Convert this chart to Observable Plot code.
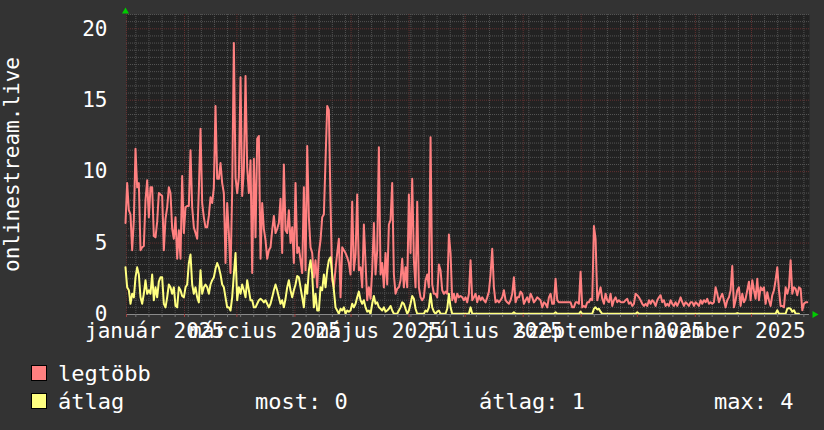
<!DOCTYPE html>
<html>
<head>
<meta charset="utf-8">
<script src="https://cdn.jsdelivr.net/npm/d3@7"></script>
<script src="https://cdn.jsdelivr.net/npm/@observablehq/plot@0.6"></script>
<style>
  html, body { margin: 0; padding: 0; background: #333333; }
  body { width: 824px; height: 430px; overflow: hidden; font-family: "DejaVu Sans Mono", monospace; color: #ffffff; }
  #chart svg { display: block; }
  #legend { position: relative; width: 824px; height: 80px; font-size: 22px; line-height: 20px; }
  #legend .sw { position: absolute; width: 14px; height: 14px; border: 1px solid #000; }
  #legend .tx { position: absolute; white-space: pre; }
</style>
</head>
<body>
<div id="chart"></div>
<div id="legend"></div>
<script>
const firstSample = "2024-12-31 11:10";
const sampleStepHours = 21.38;

const legtobb = [
  6.4, 9.2, 7.3, 7.0, 4.5, 6.6, 11.6, 8.9, 9.2, 4.5,
  4.7, 4.8, 8.0, 9.4, 6.8, 8.9, 8.9, 5.5, 5.4, 6.5,
  8.5, 8.4, 8.3, 4.5, 6.7, 7.5, 8.9, 8.5, 6.0, 5.3,
  6.8, 3.9, 5.9, 3.9, 9.7, 5.7, 7.5, 7.6, 7.6, 11.5,
  7.5, 6.1, 5.7, 5.3, 8.7, 13.0, 7.8, 6.8, 6.1, 6.1,
  6.9, 8.2, 7.8, 8.9, 14.6, 9.5, 9.5, 10.6, 9.2, 8.5,
  3.6, 7.8, 5.7, 2.9, 8.7, 19.0, 9.6, 8.5, 9.6, 16.6,
  8.3, 10.1, 16.7, 10.3, 8.5, 10.8, 2.9, 10.9, 5.4, 12.3,
  12.5, 3.9, 7.8, 6.0, 5.2, 3.9, 4.5, 4.7, 5.9, 6.9,
  5.7, 6.0, 6.4, 8.1, 4.3, 10.5, 5.9, 5.7, 7.3, 5.0,
  6.1, 3.6, 9.2, 4.3, 4.7, 3.8, 2.9, 8.9, 3.1, 11.8,
  6.8, 4.7, 4.3, 2.6, 3.8, 1.9, 4.3, 5.2, 6.8, 7.0,
  10.8, 14.6, 14.3, 7.8, 2.4, 1.9, 3.2, 4.3, 5.3, 1.2,
  4.7, 4.5, 4.3, 4.0, 3.6,
  2.8, 7.9, 3.1, 4.2, 8.4, 3.1, 3.3, 1.9, 6.3, 3.6,
  1.0, 1.9, 1.1, 3.1, 6.4, 2.8, 4.5, 11.7, 2.8, 3.6,
  1.9, 4.3, 2.1, 6.3, 6.6, 9.2, 2.8, 1.45, 1.8, 1.9,
  2.4, 3.9, 1.9, 3.3, 1.9, 8.4, 4.3, 9.5, 3.8, 1.9,
  7.9, 1.9, 1.2, 1.0, 1.2, 2.4, 2.8, 1.9, 12.4, 2.1,
  1.45, 1.45, 1.2, 3.5, 3.1, 1.7, 1.45, 1.6, 1.45, 5.6,
  4.3, 1.0, 1.45, 0.85, 1.45, 1.2, 1.3, 1.2, 1.0, 1.2,
  0.85, 1.45, 3.8, 1.0, 1.2, 1.45, 0.85, 1.3, 1.0, 1.2,
  1.0, 0.85, 1.2, 1.6, 2.8, 4.6, 1.9, 0.85, 1.0, 0.85,
  1.0, 1.2, 1.7, 1.0, 0.85, 0.75, 1.0, 1.45, 2.6, 0.85,
  1.2, 1.2, 1.6, 1.45, 0.75, 1.0, 1.2, 0.85, 1.45, 1.2,
  0.85, 1.0, 1.2, 1.1, 1.0, 0.5, 0.85, 0.75, 0.5, 1.2,
  1.45, 0.75, 0.75, 2.5, 1.0, 0.85, 0.85, 0.85, 0.85, 0.85,
  0.85, 0.85, 0.85,
  0.5, 0.5, 0.86, 0.86, 0.75, 3.0, 0.5, 0.6, 0.5, 0.86,
  0.86, 1.1, 1.0, 6.2, 5.3, 1.0, 1.45, 1.9, 1.1, 0.75,
  1.45, 1.0, 0.86, 1.45, 0.6, 1.0, 1.2, 0.86, 1.0, 0.86,
  0.86, 0.86, 1.0, 1.1, 0.75, 0.86, 0.6, 0.75, 1.45, 1.35,
  1.2, 1.0, 0.75, 0.6, 0.75, 0.6, 1.0, 0.75, 1.0, 0.86,
  0.6, 1.0, 1.2, 1.35, 0.86, 1.0, 0.6, 0.75, 0.6, 1.0,
  0.75, 0.6, 0.86, 0.6, 0.86, 1.2, 0.86, 0.6, 0.86, 0.75,
  0.6, 0.86, 0.86, 0.6, 0.86, 0.75, 0.6, 1.0, 0.75, 1.0,
  0.86, 1.1, 0.75, 0.86, 0.75, 0.86, 1.9, 1.45, 0.86, 1.2,
  1.45, 1.0, 0.5, 1.0, 1.2, 1.7, 3.4, 0.5, 1.0, 1.7,
  1.9, 0.6, 1.45, 0.86, 1.1, 1.7, 2.3, 1.0, 2.4, 1.7,
  1.1, 2.5, 1.0, 1.9, 1.7, 1.9, 0.75, 1.55, 1.0, 0.6,
  1.35, 1.7, 2.4, 3.3, 1.7, 0.6, 0.6, 0.5, 1.9, 1.45,
  1.9, 3.8, 1.45, 1.9, 1.8, 1.35, 1.9, 1.8, 0.3, 0.75,
  0.86, 0.86
];

const atlag = [
  3.3, 1.9, 1.7, 0.75, 1.45, 1.2, 2.6, 3.3, 2.8, 1.2,
  0.75, 1.45, 2.4, 1.45, 1.7, 1.45, 2.8, 1.0, 1.9, 1.2,
  2.3, 2.6, 2.6, 0.75, 0.5, 1.2, 2.1, 1.9, 1.45, 1.9,
  0.6, 0.5, 1.9, 1.7, 1.3, 1.2, 1.9, 2.1, 3.6, 4.2,
  2.1, 1.45, 1.9, 1.2, 0.85, 3.1, 1.45, 1.9, 2.1, 1.9,
  1.45, 2.1, 2.4, 2.6, 3.2, 3.6, 3.3, 2.8, 2.1, 1.9,
  1.2, 0.5, 0.5, 0.28, 1.2, 2.8, 4.3, 1.0, 1.9, 1.45,
  2.1, 1.7, 1.2, 2.4, 1.7, 1.0, 1.0, 0.5, 0.5, 0.75,
  1.0, 1.1, 1.0, 0.85, 1.0, 0.75, 0.5, 0.75, 1.2, 1.7,
  2.1, 1.7, 1.2, 0.75, 1.0, 0.5, 1.1, 1.9, 2.4, 1.7,
  1.2, 1.7, 2.1, 2.7, 2.6, 1.9, 1.2, 0.5, 2.1, 1.45,
  3.1, 3.8, 2.8, 0.5, 1.45, 0.28, 0.28, 1.9, 1.7, 2.8,
  1.9, 3.1, 3.8, 4.0, 2.8, 1.7, 0.5, 0.28, 0.05, 0.4,
  0.28, 0.5, 0.05, 0.28, 0.2,
  0.28, 0.75, 0.5, 0.75, 1.2, 1.6, 1.0, 0.75, 1.0, 0.5,
  0.2, 0.28, 0.05, 0.75, 1.3, 0.75, 0.85, 0.5, 0.4, 0.28,
  0.5, 0.2, 0.28, 0.4, 0.6, 0.28, 0.05, 0.05, 0.05, 0.28,
  0.5, 0.85, 0.75, 0.4, 0.05, 0.28, 0.75, 1.3, 1.1, 0.4,
  0.05, 0.05, 0.05, 0.05, 0.05, 0.28, 0.2, 0.5, 1.45, 0.5,
  0.2, 0.05, 0.2, 0.28, 0.05, 0.05, 0.05, 0.05, 0.4, 1.45,
  0.5, 0.05, 0.05, 0.05, 0.05, 0.05, 0.05, 0.05, 0.05, 0.05,
  0.05, 0.05, 0.5, 0.05, 0.05, 0.05, 0.05, 0.05, 0.05, 0.05,
  0.05, 0.05, 0.05, 0.05, 0.05, 0.05, 0.05, 0.05, 0.05, 0.05,
  0.05, 0.05, 0.05, 0.05, 0.05, 0.05, 0.05, 0.05, 0.15, 0.05,
  0.05, 0.05, 0.05, 0.05, 0.05, 0.05, 0.05, 0.05, 0.05, 0.05,
  0.05, 0.05, 0.05, 0.05, 0.05, 0.05, 0.05, 0.05, 0.05, 0.05,
  0.05, 0.05, 0.05, 0.15, 0.05, 0.05, 0.05, 0.05, 0.05, 0.05,
  0.05, 0.05, 0.05,
  0.05, 0.05, 0.05, 0.05, 0.05, 0.2, 0.05, 0.05, 0.05, 0.05,
  0.05, 0.05, 0.05, 0.4, 0.5, 0.35, 0.4, 0.2, 0.05, 0.05,
  0.05, 0.05, 0.05, 0.05, 0.05, 0.05, 0.05, 0.05, 0.05, 0.05,
  0.05, 0.05, 0.05, 0.05, 0.05, 0.05, 0.05, 0.05, 0.05, 0.15,
  0.05, 0.05, 0.05, 0.05, 0.05, 0.05, 0.05, 0.05, 0.05, 0.05,
  0.05, 0.05, 0.05, 0.05, 0.05, 0.05, 0.05, 0.05, 0.05, 0.05,
  0.05, 0.05, 0.05, 0.05, 0.05, 0.05, 0.05, 0.05, 0.05, 0.05,
  0.05, 0.05, 0.05, 0.05, 0.05, 0.05, 0.05, 0.05, 0.05, 0.05,
  0.05, 0.05, 0.05, 0.05, 0.05, 0.05, 0.05, 0.05, 0.05, 0.05,
  0.05, 0.05, 0.05, 0.05, 0.05, 0.05, 0.05, 0.05, 0.05, 0.1,
  0.05, 0.05, 0.05, 0.05, 0.05, 0.05, 0.05, 0.05, 0.05, 0.05,
  0.05, 0.05, 0.05, 0.05, 0.05, 0.05, 0.05, 0.05, 0.05, 0.05,
  0.05, 0.05, 0.05, 0.3, 0.05, 0.05, 0.05, 0.05, 0.05, 0.4,
  0.45, 0.4, 0.2, 0.3, 0.05, 0.05, 0.05
];

const yTicks = [0, 5, 10, 15, 20];
const xLabelDates = ["2025-01-16", "2025-03-16", "2025-05-16", "2025-07-16", "2025-09-16", "2025-11-16"];
const xLabels = ["január 2025", "március 2025", "május 2025", "július 2025", "szeptember 2025", "november 2025"];
const xDomain = ["2025-01-01", "2026-01-01"];
const yDomain = [0, 21];
const seriesNames = ["legtöbb", "átlag"];
const seriesColors = ["#ff8080", "#ffff80"];
const statLabels = ["most: 0", "átlag: 1", "max: 4"];
const yTitle = "onlinestream.live";

// ---- build ----
const parseDay = d3.timeParse("%Y-%m-%d");
const parseStart = d3.timeParse("%Y-%m-%d %H:%M");
const t0 = parseStart(firstSample);
const stepMs = sampleStepHours * 3600e3;
const rows = [];
legtobb.forEach((v, i) => rows.push({date: new Date(+t0 + i * stepMs), value: v, series: seriesNames[0]}));
atlag.forEach((v, i) => rows.push({date: new Date(+t0 + i * stepMs), value: v, series: seriesNames[1]}));

const x0 = parseDay(xDomain[0]), x1 = parseDay(xDomain[1]);
const monthStarts = d3.timeMonth.range(x0, x1);
const mondays = d3.timeMonday.range(x0, x1).filter(d => d.getDate() !== 1);
const minorY = d3.range(1, yDomain[1] * 2 + 1).map(k => k / 2).filter(v => v % 5 !== 0);
const majorY = yTicks.filter(v => v > 0);
const labelDates = xLabelDates.map(parseDay);
const labelOf = new Map(labelDates.map((d, i) => [+d, xLabels[i]]));

const font = "DejaVu Sans Mono";
const gridMinor = "#535353";
const gridMajor = "#633030";

const chart = Plot.plot({
  width: 824,
  height: 350,
  marginLeft: 126,
  marginRight: 15,
  marginTop: 14,
  marginBottom: 36,
  style: {background: "transparent", color: "#ffffff", fontFamily: font},
  x: {type: "time", domain: [x0, x1]},
  y: {domain: yDomain},
  color: {domain: seriesNames, range: seriesColors},
  marks: [
    Plot.frame({fill: "#222222", stroke: null}),
    Plot.ruleY(minorY, {stroke: gridMinor, strokeDasharray: "1,1"}),
    Plot.ruleX(mondays, {stroke: gridMinor, strokeDasharray: "1,1"}),
    Plot.ruleY(majorY, {stroke: gridMajor, strokeDasharray: "1,1"}),
    Plot.ruleX(monthStarts, {stroke: gridMajor, strokeDasharray: "1,1"}),
    Plot.line(rows, {x: "date", y: "value", z: "series", stroke: "series", strokeWidth: 2, curve: "linear"}),
    Plot.ruleY([0], {stroke: "#8a8a8a"}),
    Plot.axisX(mondays, {tickSize: 3, tickFormat: () => "", stroke: "#777"}),
    Plot.axisX(monthStarts, {tickSize: 3, tickFormat: () => "", stroke: "#a04040"}),
    Plot.axisX(labelDates, {tickSize: 0, tickPadding: 9, tickFormat: d => labelOf.get(+d), fontSize: 21, fill: "#ffffff", fontFamily: font}),
    Plot.axisY(yTicks, {tickSize: 0, tickPadding: 19, fontSize: 21, fill: "#ffffff", fontFamily: font, label: null}),
    Plot.text([yTitle], {frameAnchor: "left", text: d => d, rotate: -90, dx: -114, fontSize: 21, fill: "#ffffff", fontFamily: font, textAnchor: "middle"}),
    Plot.dot([0], {frameAnchor: "top-left", symbol: "triangle", r: 2.6, fill: "#00cc00", stroke: null, dy: -3, dx: -1}),
    Plot.dot([0], {frameAnchor: "bottom-right", symbol: "triangle", rotate: 90, r: 2.6, fill: "#00cc00", stroke: null, dx: 5})
  ]
});
document.getElementById("chart").appendChild(chart);

// ---- legend (below the SVG) ----
const legend = document.getElementById("legend");
function add(cls, left, top, text, bg) {
  const el = document.createElement("div");
  el.className = cls;
  el.style.left = left + "px";
  el.style.top = top + "px";
  if (text != null) el.textContent = text;
  if (bg) el.style.background = bg;
  legend.appendChild(el);
}
add("sw", 31, 15, null, seriesColors[0]);
add("tx", 58, 14, seriesNames[0]);
add("sw", 31, 43, null, seriesColors[1]);
add("tx", 58, 42, seriesNames[1]);
add("tx", 255, 42, statLabels[0]);
add("tx", 479, 42, statLabels[1]);
add("tx", 714, 42, statLabels[2]);
</script>
</body>
</html>
